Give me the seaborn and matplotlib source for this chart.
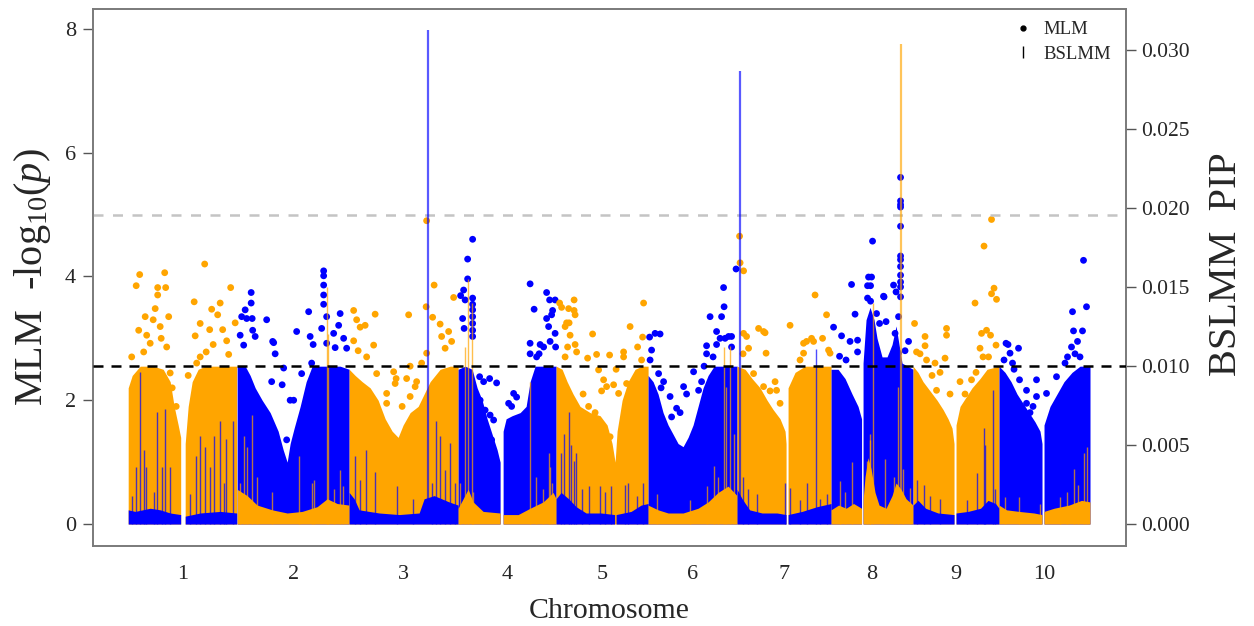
import numpy as np
import pandas as pd
import seaborn as sns
import matplotlib
matplotlib.use("Agg")
import matplotlib.pyplot as plt
from matplotlib.lines import Line2D

# chromosomes, lengths in Mb
chrom_labels = ["1", "2", "3", "4", "5", "6", "7", "8", "9", "10"]
chrom_len = [218, 224, 218, 196, 184, 178, 188, 164, 172, 182]

# MLM dense mass: upper outline of the solid cloud (pos Mb, -log10 p)
# MLM outliers above the cloud: (pos Mb, -log10 p)
# BSLMM base band (pos Mb, PIP) and BSLMM spikes (pos Mb, PIP)
chr1_env = [(0, 0), (0, 2.2), (8, 2.4), (24, 2.55), (50, 2.55), (70, 2.5), (84, 2.3), (92, 1.9), (100, 1.6),
            (105, 1.4), (105, 0), (114, 0), (114, 1.3), (120, 1.9), (128, 2.3), (140, 2.5), (154, 2.55),
            (174, 2.55), (194, 2.55), (217, 2.55), (217, 0)]
chr1_pts = [(16, 3.85), (23, 4.03), (59, 3.70), (59, 3.82), (73, 4.06), (75, 3.82), (34, 3.35), (54, 3.48),
            (64, 3.19), (81, 3.35), (21, 3.13), (37, 3.05), (44, 2.92), (77, 2.86), (31, 2.78), (7, 2.70),
            (50, 3.30), (66, 3.00), (84, 2.44), (88, 2.20), (96, 1.90), (153, 4.20), (205, 3.82), (167, 3.47),
            (184, 3.57), (132, 3.59), (144, 3.24), (134, 3.04), (163, 3.14), (179, 3.38), (189, 3.14),
            (197, 2.96), (201, 2.74), (156, 2.78), (137, 2.60), (214, 3.25), (120, 2.40), (170, 2.90), (144, 2.70)]
chr1_base = [(0, 0.0009), (14, 0.0008), (44, 0.0010), (64, 0.0009), (84, 0.0007), (105, 0.0006), (105, 0),
             (114, 0), (114, 0.0005), (144, 0.0007), (184, 0.0008), (217, 0.0007)]
chr1_spk = [(24, 0.0096), (7, 0.0018), (16, 0.0036), (31, 0.0047), (36, 0.0036), (57, 0.0071), (67, 0.0036),
            (74, 0.0073), (83, 0.0036), (51, 0.0020), (136, 0.0043), (144, 0.0056), (154, 0.0049), (171, 0.0056),
            (183, 0.0065), (196, 0.0054), (209, 0.0065), (124, 0.0019), (163, 0.0036), (191, 0.0026)]

chr2_env = [(0, 0), (0, 2.55), (16, 2.55), (26, 2.4), (36, 2.2), (50, 2.0), (66, 1.8), (82, 1.5), (92, 1.2),
            (100, 1.0), (106, 1.3), (114, 1.55), (126, 1.9), (138, 2.3), (150, 2.55), (166, 2.55), (186, 2.55),
            (206, 2.55), (224, 2.5), (224, 0)]
chr2_pts = [(28, 3.74), (28, 3.57), (16, 3.46), (19, 3.32), (30, 3.32), (6, 3.05), (13, 2.89), (31, 3.13),
            (36, 3.03), (59, 3.30), (73, 2.93), (76, 2.75), (93, 2.52), (69, 2.30), (90, 2.25), (106, 2.0),
            (119, 3.11), (143, 3.43), (146, 3.03), (152, 2.9), (173, 4.09), (173, 4.01), (173, 3.86), (173, 3.70),
            (173, 3.55), (169, 3.16), (179, 3.35), (193, 3.08), (203, 3.21), (206, 3.40), (213, 3.00), (219, 2.84),
            (149, 2.60), (196, 2.85), (179, 2.92), (129, 2.43), (113, 2.0), (99, 1.36), (9, 3.35), (71, 2.95)]
chr2_base = [(0, 0.0022), (20, 0.0018), (40, 0.0012), (70, 0.0009), (100, 0.0007), (130, 0.0008), (160, 0.0011),
             (180, 0.0016), (200, 0.0013), (224, 0.0012)]
chr2_spk = [(179, 0.0150), (181, 0.0120), (29, 0.0069), (13, 0.0056), (19, 0.0049), (39, 0.0030), (123, 0.0043),
            (149, 0.0026), (154, 0.0028), (193, 0.0022), (206, 0.0034), (212, 0.0024), (5, 0.0026), (69, 0.0020)]

chr3_env = [(0, 0), (0, 2.5), (12, 2.4), (26, 2.3), (42, 2.2), (58, 2.0), (72, 1.7), (86, 1.5), (98, 1.4),
            (108, 1.6), (122, 1.8), (138, 1.9), (150, 2.1), (162, 2.3), (182, 2.5), (202, 2.55), (218, 2.55), (218, 0)]
chr3_pts = [(9, 3.45), (15, 3.30), (32, 3.21), (22, 3.18), (52, 3.39), (49, 2.89), (9, 2.96), (18, 2.8),
            (35, 2.70), (55, 2.43), (89, 2.46), (94, 2.35), (92, 2.27), (75, 2.11), (75, 1.95), (119, 3.38),
            (122, 2.55), (115, 2.35), (132, 2.22), (106, 1.9), (155, 4.90), (154, 3.51), (170, 3.86), (167, 3.34),
            (182, 3.23), (185, 3.03), (199, 3.11), (209, 3.66), (205, 2.95), (155, 2.76), (145, 2.6), (192, 2.84),
            (122, 2.06), (135, 2.3)]
chr3_base = [(0, 0.0020), (10, 0.0016), (20, 0.0009), (60, 0.0007), (100, 0.0006), (140, 0.0007), (150, 0.0016),
             (170, 0.0018), (200, 0.0014), (218, 0.0012)]
chr3_spk = [(157, 0.0313), (12, 0.0043), (34, 0.0047), (52, 0.0033), (22, 0.0028), (95, 0.0024), (128, 0.0016),
            (174, 0.0065), (182, 0.0056), (192, 0.0034), (202, 0.0051), (212, 0.0026), (165, 0.0026)]

chr4_env = [(0, 0), (0, 2.5), (14, 2.55), (28, 2.5), (38, 2.2), (48, 2.0), (58, 1.7), (68, 1.45), (78, 1.2),
            (84, 1.0), (84, 0), (90, 0), (90, 1.5), (96, 1.7), (108, 1.75), (124, 1.8), (136, 1.9), (144, 2.3),
            (154, 2.55), (174, 2.55), (196, 2.55), (196, 0)]
chr4_pts = [(29, 4.60), (19, 4.28), (19, 3.96), (11, 3.78), (14, 3.62), (29, 3.65), (29, 3.55), (29, 3.46),
            (29, 3.35), (29, 3.24), (29, 3.13), (29, 3.03), (9, 3.32), (12, 3.16), (43, 2.38), (51, 2.30),
            (63, 2.35), (77, 2.28), (44, 2.0), (54, 1.84), (64, 1.76), (71, 1.68), (67, 1.36), (101, 1.95),
            (111, 2.11), (117, 2.05), (107, 1.9), (144, 3.88), (152, 3.47), (144, 2.92), (144, 2.75), (162, 2.75),
            (177, 3.74), (183, 3.62), (187, 3.38), (189, 3.45), (181, 3.19), (177, 3.32), (194, 3.62), (194, 3.08),
            (195, 2.86), (171, 2.86), (157, 2.70), (184, 2.95), (164, 2.9), (5, 3.69)]
chr4_base = [(0, 0.0010), (10, 0.0016), (20, 0.0022), (30, 0.0014), (50, 0.0008), (84, 0.0007), (84, 0), (90, 0),
             (90, 0.0006), (120, 0.0006), (144, 0.0010), (170, 0.0014), (190, 0.0020), (196, 0.0016)]
chr4_spk = [(14, 0.0112), (20, 0.0155), (27, 0.0140), (4, 0.0026), (30, 0.0020), (144, 0.0090), (156, 0.0030),
            (170, 0.0022), (181, 0.0045), (184, 0.0036), (188, 0.0026)]

chr5_env = [(0, 0), (0, 2.55), (12, 2.5), (22, 2.3), (34, 2.1), (48, 1.9), (68, 1.8), (88, 1.75), (102, 1.6),
            (112, 1.3), (118, 1.0), (122, 1.5), (132, 2.0), (144, 2.3), (158, 2.5), (172, 2.55), (184, 2.55), (184, 0)]
chr5_pts = [(7, 3.57), (11, 3.50), (25, 3.48), (36, 3.62), (36, 3.45), (38, 3.38), (21, 3.25), (26, 3.25),
            (18, 3.19), (28, 3.05), (23, 2.86), (38, 2.9), (41, 2.78), (18, 2.70), (73, 3.07), (63, 2.68),
            (81, 2.74), (107, 2.73), (85, 2.49), (95, 2.33), (91, 2.15), (101, 2.22), (115, 2.25), (135, 2.78),
            (135, 2.7), (148, 3.19), (163, 2.86), (173, 3.02), (175, 3.57), (171, 2.65), (120, 2.5), (141, 2.27),
            (125, 2.11), (54, 2.1), (65, 1.90), (78, 1.8), (108, 1.41)]
chr5_base = [(0, 0.0016), (10, 0.0020), (25, 0.0016), (40, 0.0011), (60, 0.0007), (90, 0.0007), (117, 0.0006),
             (117, 0), (120, 0), (120, 0.0006), (150, 0.0008), (170, 0.0012), (184, 0.0013)]
chr5_spk = [(25, 0.0071), (15, 0.0057), (10, 0.0045), (29, 0.0050), (36, 0.0040), (39, 0.0045), (51, 0.0022),
            (65, 0.0024), (87, 0.0024), (110, 0.0024), (138, 0.0025), (143, 0.0026), (98, 0.0020), (162, 0.0018),
            (174, 0.0026)]

chr6_env = [(0, 0), (0, 2.4), (10, 2.3), (20, 2.1), (30, 1.8), (40, 1.6), (50, 1.45), (60, 1.3), (70, 1.25),
            (80, 1.4), (90, 1.6), (100, 1.9), (110, 2.2), (120, 2.4), (132, 2.55), (154, 2.55), (178, 2.55), (178, 0)]
chr6_pts = [(3, 3.02), (7, 2.81), (14, 3.08), (24, 3.07), (4, 2.65), (21, 2.43), (31, 2.30), (26, 2.2), (44, 2.06),
            (57, 1.87), (64, 1.8), (47, 1.73), (71, 2.22), (77, 2.1), (91, 2.46), (101, 2.16), (117, 2.88),
            (124, 3.35), (137, 3.11), (147, 3.35), (151, 3.82), (152, 3.51), (137, 2.9), (144, 3.0), (154, 3.0),
            (161, 3.03), (167, 3.03), (167, 2.86), (176, 4.12), (130, 2.7), (117, 2.75), (107, 2.30), (112, 2.55)]
chr6_base = [(0, 0.0012), (20, 0.0009), (40, 0.0007), (70, 0.0007), (100, 0.0010), (120, 0.0014), (140, 0.0020),
             (160, 0.0024), (178, 0.0018)]
chr6_spk = [(152, 0.0112), (163, 0.0113), (156, 0.0087), (131, 0.0037), (140, 0.0030), (117, 0.0024),
            (171, 0.0057), (17, 0.0019), (84, 0.0015)]

chr7_env = [(0, 0), (0, 2.55), (16, 2.5), (30, 2.35), (46, 2.2), (60, 2.0), (72, 1.85), (86, 1.7), (96, 1.5),
            (98, 1.3), (98, 0), (102, 0), (102, 2.2), (116, 2.45), (136, 2.55), (156, 2.55), (188, 2.55), (188, 0)]
chr7_pts = [(5, 4.65), (6, 4.22), (13, 4.09), (13, 3.08), (19, 3.03), (23, 2.84), (12, 2.75), (43, 3.16),
            (53, 3.11), (56, 3.09), (58, 2.76), (33, 2.43), (43, 1.98), (53, 2.22), (66, 2.15), (76, 2.3),
            (79, 2.16), (86, 1.95), (106, 3.21), (139, 2.95), (133, 2.92), (133, 2.76), (149, 3.0), (153, 2.95),
            (156, 3.70), (171, 3.00), (179, 3.38), (183, 2.81), (186, 2.76), (126, 2.65)]
chr7_base = [(0, 0.0022), (10, 0.0016), (25, 0.0009), (50, 0.0007), (80, 0.0007), (98, 0.0006), (98, 0),
             (102, 0), (102, 0.0006), (130, 0.0008), (160, 0.0011), (188, 0.0013)]
chr7_spk = [(6, 0.0287), (12, 0.0030), (22, 0.0022), (39, 0.0019), (96, 0.0026), (158, 0.0111), (106, 0.0023),
            (126, 0.0015), (166, 0.0016), (179, 0.0019), (139, 0.0026)]

chr8_env = [(0, 0), (0, 2.5), (14, 2.5), (28, 2.35), (42, 2.1), (54, 1.9), (61, 1.7), (61, 0), (64, 0), (64, 2.6),
            (70, 3.3), (78, 3.5), (86, 3.3), (92, 3.0), (102, 2.7), (112, 2.7), (122, 2.9), (130, 3.2), (136, 2.9),
            (142, 2.6), (164, 2.5), (164, 0)]
chr8_pts = [(83, 4.57), (75, 3.99), (81, 3.99), (73, 3.85), (79, 3.85), (73, 3.65), (79, 3.6), (106, 3.67),
            (41, 3.87), (48, 3.39), (5, 3.18), (21, 3.04), (38, 2.95), (53, 2.97), (17, 2.71), (30, 2.65),
            (53, 2.78), (91, 3.40), (97, 3.24), (110, 3.27), (105, 3.68), (125, 3.86), (130, 3.75), (128, 3.08),
            (139, 5.60), (139, 5.22), (139, 5.16), (139, 5.12), (139, 4.81), (139, 4.33), (139, 4.27), (139, 4.16),
            (139, 4.02), (139, 3.91), (139, 3.83), (139, 3.67), (135, 3.35), (155, 2.95), (135, 2.76), (148, 2.8)]
chr8_base = [(0, 0.0009), (15, 0.0012), (30, 0.0010), (45, 0.0013), (61, 0.0010), (61, 0), (64, 0), (64, 0.0015),
             (68, 0.0030), (74, 0.0042), (80, 0.0035), (88, 0.0020), (96, 0.0012), (110, 0.0010), (122, 0.0018),
             (130, 0.0026), (140, 0.0022), (150, 0.0016), (164, 0.0012)]
chr8_spk = [(83, 0.0140), (78, 0.0057), (77, 0.0053), (72, 0.0040), (133, 0.0087), (139, 0.0304), (108, 0.0041),
            (41, 0.0039), (18, 0.0027), (28, 0.0020), (125, 0.0030), (158, 0.0023), (144, 0.0035)]

chr9_env = [(0, 0), (0, 2.55), (10, 2.45), (20, 2.3), (34, 2.15), (48, 2.0), (60, 1.85), (70, 1.7), (78, 1.55),
            (82, 1.3), (82, 0), (86, 0), (86, 1.6), (94, 1.9), (106, 2.05), (118, 2.2), (134, 2.35), (148, 2.5),
            (172, 2.55), (172, 0)]
chr9_pts = [(3, 3.24), (24, 3.03), (24, 2.88), (7, 2.78), (14, 2.75), (27, 2.65), (67, 3.16), (67, 3.05),
            (64, 2.68), (54, 2.45), (47, 2.16), (74, 2.1), (94, 2.30), (124, 3.57), (142, 4.49), (157, 4.92),
            (157, 3.72), (162, 3.81), (167, 3.63), (137, 3.08), (147, 3.13), (155, 3.05), (134, 2.84), (140, 2.7),
            (166, 2.89), (117, 2.33), (126, 2.45), (151, 2.70), (104, 2.1), (38, 2.4), (44, 2.6)]
chr9_base = [(0, 0.0012), (10, 0.0015), (25, 0.0010), (50, 0.0007), (82, 0.0006), (82, 0), (86, 0), (86, 0.0007),
             (110, 0.0008), (135, 0.0010), (150, 0.0015), (165, 0.0013), (172, 0.0010)]
chr9_spk = [(159, 0.0085), (141, 0.0061), (144, 0.0050), (127, 0.0032), (164, 0.0022), (7, 0.0028), (21, 0.0025),
            (34, 0.0018), (107, 0.0015), (54, 0.0016)]

chr10_env = [(0, 0), (0, 2.55), (12, 2.45), (24, 2.3), (36, 2.1), (48, 1.95), (60, 1.8), (72, 1.65), (82, 1.5),
             (86, 1.3), (86, 0), (90, 0), (90, 1.6), (102, 1.9), (116, 2.1), (130, 2.3), (146, 2.45), (162, 2.55),
             (182, 2.55), (182, 0)]
chr10_pts = [(14, 2.92), (22, 2.76), (39, 2.84), (10, 2.65), (27, 2.60), (41, 2.33), (55, 2.16), (75, 2.33),
             (75, 2.06), (68, 1.9), (55, 1.95), (62, 1.8), (95, 2.11), (115, 2.38), (132, 2.60), (137, 2.70),
             (147, 3.43), (149, 3.12), (167, 3.12), (145, 2.86), (157, 2.95), (169, 4.26), (175, 3.51), (152, 2.75),
             (162, 2.7), (18, 2.9), (30, 2.5)]
chr10_base = [(0, 0.0012), (15, 0.0009), (40, 0.0008), (70, 0.0007), (86, 0.0006), (86, 0), (90, 0),
              (90, 0.0008), (110, 0.0010), (140, 0.0012), (165, 0.0015), (182, 0.0014)]
chr10_spk = [(175, 0.0049), (169, 0.0045), (149, 0.0035), (158, 0.0025), (39, 0.0017), (12, 0.0017),
             (82, 0.0013), (122, 0.0017), (135, 0.0020)]

mlm_thresh = 5.0
pip_thresh = 0.01

env_all = [chr1_env, chr2_env, chr3_env, chr4_env, chr5_env, chr6_env, chr7_env, chr8_env, chr9_env, chr10_env]
pts_all = [chr1_pts, chr2_pts, chr3_pts, chr4_pts, chr5_pts, chr6_pts, chr7_pts, chr8_pts, chr9_pts, chr10_pts]
base_all = [chr1_base, chr2_base, chr3_base, chr4_base, chr5_base, chr6_base, chr7_base, chr8_base, chr9_base,
            chr10_base]
spk_all = [chr1_spk, chr2_spk, chr3_spk, chr4_spk, chr5_spk, chr6_spk, chr7_spk, chr8_spk, chr9_spk, chr10_spk]

ORANGE = "#FFA500"
BLUE = "#0000FF"

sns.set_style("ticks")
plt.rcParams['font.family'] = ['Liberation Serif', 'DejaVu Serif']
plt.rcParams['mathtext.fontset'] = 'custom'
plt.rcParams['mathtext.rm'] = 'Liberation Serif'
plt.rcParams['mathtext.it'] = 'Liberation Serif:italic'

offsets = np.concatenate([[0], np.cumsum(chrom_len)[:-1]])
centers = offsets + np.array(chrom_len) / 2.0

# MLM colours alternate orange / blue, BSLMM the other way round
mlm_col = {lab: (ORANGE if i % 2 == 0 else BLUE) for i, lab in enumerate(chrom_labels)}
bs_col = {lab: (BLUE if i % 2 == 0 else ORANGE) for i, lab in enumerate(chrom_labels)}

rows = []
for i, pts in enumerate(pts_all):
    for pos, val in pts:
        rows.append({"chrom": chrom_labels[i], "x": offsets[i] + pos, "mlm": val})
df_pts = pd.DataFrame(rows)

rows = []
for i, spk in enumerate(spk_all):
    for pos, pip in spk:
        rows.append({"chrom": chrom_labels[i], "x": offsets[i] + pos, "pip": pip})
df_spk = pd.DataFrame(rows)

fig = plt.figure(figsize=(12.54, 6.26), dpi=100)
ax = fig.add_axes([92.7 / 1254, 1 - 545.7 / 626, 1033.3 / 1254, 536.7 / 626])

for i, env in enumerate(env_all):
    e = np.array(env)
    ax.fill_between(offsets[i] + e[:, 0], 0, e[:, 1], color=mlm_col[chrom_labels[i]], lw=0, zorder=2)

sns.scatterplot(data=df_pts, x="x", y="mlm", hue="chrom", palette=mlm_col, s=24, linewidth=0,
                legend=False, ax=ax, zorder=3)

ax.axhline(mlm_thresh, color="#c4c4c4", lw=1.8, ls=(0, (4, 3.8)), zorder=4)

ax.set_xlim(-71, 1996)
ax.set_ylim(-0.35, 8.32)
ax.set_yticks([0, 2, 4, 6, 8])
ax.set_xticks(centers)
ax.set_xticklabels(chrom_labels)
ax.set_xlabel("Chromosome", fontsize=21.5, labelpad=10)
ax.set_ylabel(r"MLM  -log$_{10}$($p$)", fontsize=29)
ax.yaxis.set_label_coords(-0.038, 0.5)
ax.tick_params(axis='y', direction='out', length=7, width=1, color='#555555', labelsize=16, pad=5)
ax.tick_params(axis='x', length=0, labelsize=16, pad=14)

ax2 = ax.twinx()
for i, base in enumerate(base_all):
    b = np.array(base)
    ax2.fill_between(offsets[i] + b[:, 0], 0, b[:, 1], color=bs_col[chrom_labels[i]], lw=0, zorder=2)

for lab, grp in df_spk.groupby("chrom"):
    big = grp[grp["pip"] > 0.02]
    small = grp[grp["pip"] <= 0.02]
    ax2.vlines(small["x"], 0, small["pip"], colors=bs_col[lab], lw=1.0, alpha=0.7, zorder=3)
    ax2.vlines(big["x"], 0, big["pip"], colors=bs_col[lab], lw=1.6, alpha=0.65, zorder=3)

ax2.axhline(pip_thresh, color="black", lw=1.8, ls=(0, (4, 3.2)), zorder=5)

ax2.set_ylim(-0.00137, 0.0326)
pip_ticks = [0.0, 0.005, 0.010, 0.015, 0.020, 0.025, 0.030]
ax2.set_yticks(pip_ticks)
ax2.set_yticklabels([f"{t:.3f}" for t in pip_ticks])
ax2.set_ylabel("BSLMM  PIP", fontsize=29)
ax2.yaxis.set_label_coords(1.079, 0.525)
ax2.tick_params(axis='y', direction='out', length=7, width=1, color='#555555', labelsize=15.5, pad=4)

for a in (ax, ax2):
    for sp in a.spines.values():
        sp.set_color("#7a7a7a")
        sp.set_linewidth(1.2)

handles = [Line2D([], [], marker='o', ls='none', color='black', markersize=3.5),
           Line2D([], [], marker='|', ls='none', color='black', markersize=9, markeredgewidth=1.0)]
ax2.legend(handles, ["MLM", "BSLMM"], loc="upper right", bbox_to_anchor=(0.995, 0.995), frameon=False,
           fontsize=13.5, handlelength=1.0, handletextpad=0.6, labelspacing=0.4, borderpad=0)

fig.savefig("out.png", dpi=100)
